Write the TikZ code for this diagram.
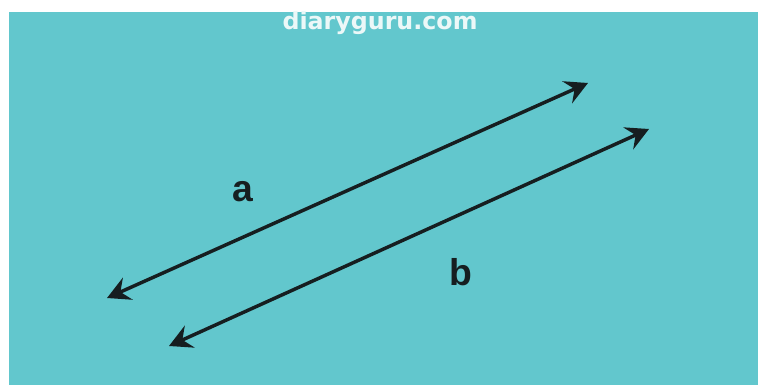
\documentclass[tikz,border=0pt]{standalone}
\usepackage{fontspec}
\setmainfont{Liberation Sans}
\newfontfamily\markfont{DejaVu Sans}
\usepackage{xcolor}
\usetikzlibrary{arrows.meta, positioning}

\definecolor{panelteal}{RGB}{98,199,205}
\definecolor{inkdark}{RGB}{22,30,32}
\definecolor{markwhite}{RGB}{236,248,248}

\begin{document}
\begin{tikzpicture}[
        x=0.75pt, y=-0.75pt,
        vecline/.style={{Stealth[length=17pt, width=18pt, inset=6pt]}-{Stealth[length=17pt, width=18pt, inset=6pt]}, line width=2.6pt, draw=inkdark},
        veclabel/.style={font=\bfseries\fontsize{28}{30}\selectfont, text=inkdark, inner sep=0pt},
        watermark/.style={font=\markfont\bfseries\fontsize{17.8}{20}\selectfont, text=markwhite, inner sep=0pt}
    ]
        % Canvas
        \useasboundingbox (0,0) rectangle (758,385);
        \fill[white] (0,0) rectangle (758,385);
        \fill[panelteal] (9,12) rectangle (758,385);

        % Watermark
        \node[watermark] (mark) at (380,23) {diaryguru.com};

        % End points
        \coordinate (a1) at (107,298);
        \coordinate (a2) at (588,83);
        \coordinate (b1) at (169,346);
        \coordinate (b2) at (649,129);

        % Vectors
        \draw[vecline] (a1) -- (a2);
        \draw[vecline] (b1) -- (b2);

        % Labels
        \node[veclabel] (la) at (243,192) {a};
        \node[veclabel] (lb) at (461,272) {b};

    \end{tikzpicture}
\end{document}
